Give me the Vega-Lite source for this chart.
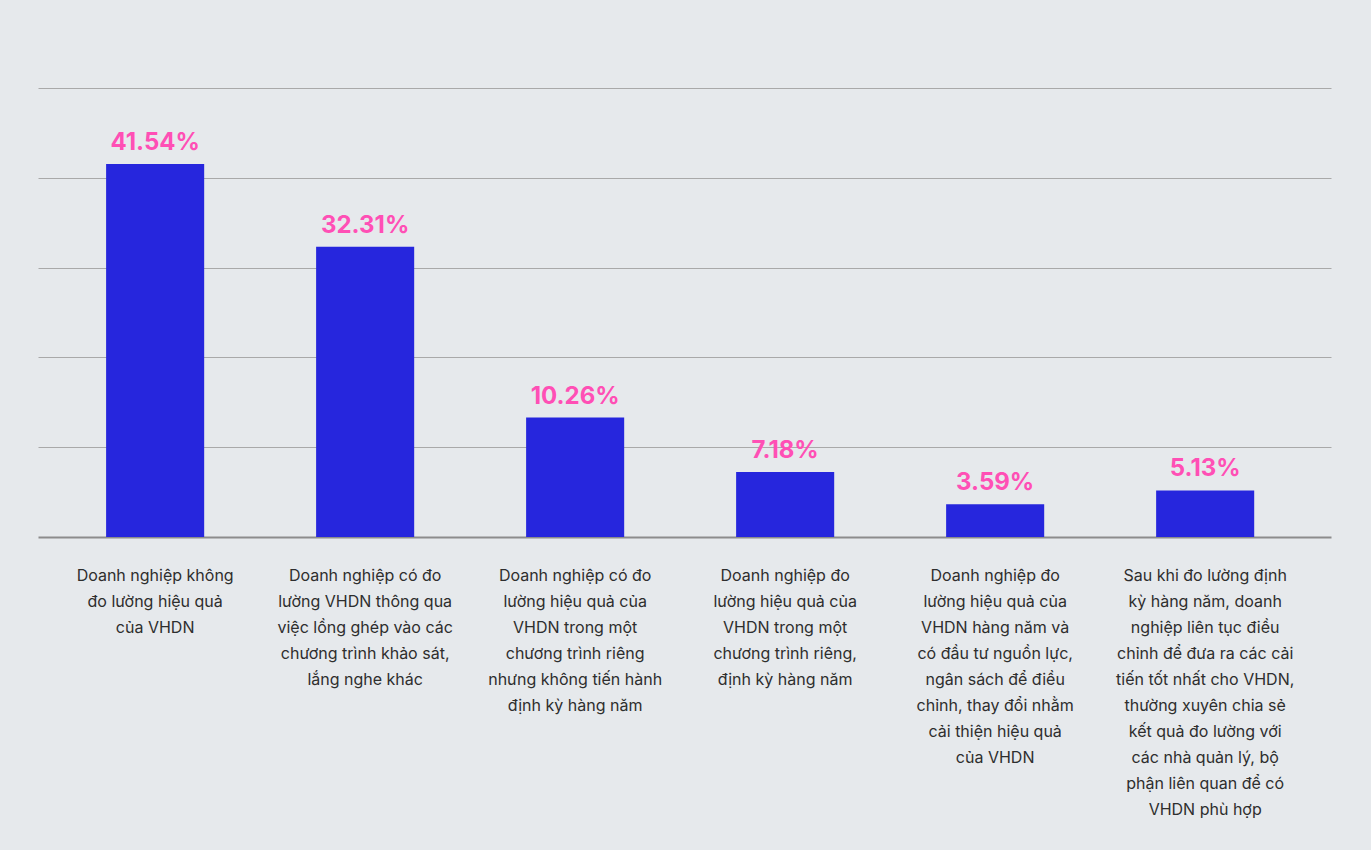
{
  "$schema": "https://vega.github.io/schema/vega-lite/v6.json",
  "width": 1293,
  "height": 449,
  "autosize": "none",
  "padding": {"left": 38, "top": 88, "right": 40, "bottom": 313},
  "background": "#e6e9ec",
  "config": {"view": {"stroke": null}, "font": "Inter"},
  "data": {
    "values": [
      {"order": 1, "label": "Doanh nghiệp không|đo lường hiệu quả|của VHDN", "value": 41.54, "pct": "41.54%"},
      {"order": 2, "label": "Doanh nghiệp có đo|lường VHDN thông qua|việc lồng ghép vào các|chương trình khảo sát,|lắng nghe khác", "value": 32.31, "pct": "32.31%"},
      {"order": 3, "label": "Doanh nghiệp có đo|lường hiệu quả của|VHDN trong một|chương trình riêng|nhưng không tiến hành|định kỳ hàng năm", "value": 13.3, "pct": "10.26%"},
      {"order": 4, "label": "Doanh nghiệp  đo|lường hiệu quả của|VHDN trong một|chương trình riêng,|định kỳ hàng năm", "value": 7.25, "pct": "7.18%"},
      {"order": 5, "label": "Doanh nghiệp  đo|lường hiệu quả của|VHDN hàng năm và|có đầu tư nguồn lực,|ngân sách để điều|chỉnh, thay đổi nhằm|cải thiện hiệu quả|của VHDN", "value": 3.65, "pct": "3.59%"},
      {"order": 6, "label": "Sau khi đo lường định|kỳ hàng năm, doanh|nghiệp liên tục điều|chỉnh để đưa ra các cải|tiến tốt nhất cho VHDN,|thường xuyên chia sẻ|kết quả đo lường với|các nhà quản lý, bộ|phận liên quan để có|VHDN phù hợp", "value": 5.18, "pct": "5.13%"}
    ]
  },
  "encoding": {
    "x": {
      "field": "label",
      "type": "nominal",
      "sort": {"field": "order"},
      "scale": {"paddingInner": 0.533, "paddingOuter": 0.345, "align": 0.47},
      "axis": {
        "title": null,
        "labelAngle": 0,
        "labelExpr": "split(datum.label, '|')",
        "labelFontSize": 16,
        "labelColor": "#2e2e2e",
        "labelLineHeight": 26,
        "labelLimit": 400,
        "labelPadding": 30,
        "labelBaseline": "top",
        "ticks": false,
        "domainColor": "#8c8c8c",
        "domainWidth": 2
      }
    },
    "y": {
      "field": "value",
      "type": "quantitative",
      "scale": {"domain": [0, 50], "nice": false},
      "axis": {
        "title": null,
        "labels": false,
        "ticks": false,
        "domain": false,
        "values": [10, 20, 30, 40, 50],
        "gridColor": "#a9a9a9",
        "gridWidth": 1.2
      }
    }
  },
  "layer": [
    {"mark": {"type": "bar", "color": "#2626dd"}},
    {
      "mark": {"type": "text", "color": "#ff4fb5", "fontSize": 24, "fontWeight": "bold", "baseline": "alphabetic", "dy": -14},
      "encoding": {"text": {"field": "pct", "type": "nominal"}}
    }
  ]
}
